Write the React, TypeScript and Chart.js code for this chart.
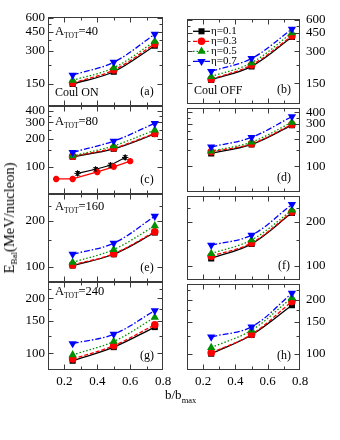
import React, { useEffect, useRef } from "react";
import { Chart, registerables } from "chart.js";
Chart.register(...registerables);

const FONT = "'Liberation Serif', 'Times New Roman', serif";

// impact parameter b/b_max
const bRatio = [0.25, 0.5, 0.75];
const etaNames = ["η=0.1", "η=0.3", "η=0.5", "η=0.7"];

// E_Bal (MeV/nucleon); rows: η=0.1, 0.3, 0.5, 0.7
const ebalA40On = [[150, 194, 335], [153, 201, 348], [162, 211, 367], [181, 237, 426]];
const ebalA40Off = [[161, 216, 411], [163, 223, 420], [173, 234, 450], [194, 257, 489]];
const ebalA80On = [[128, 156, 225], [130, 159, 228], [131, 168, 248], [143, 189, 293]];
const ebalA80Off = [[139, 175, 288], [145, 178, 293], [147, 186, 310], [164, 210, 359]];
const ebalA160On = [[102, 121, 168], [103, 122, 170], [107, 130, 186], [121, 143, 215]];
const ebalA160Off = [[112, 141, 230], [116, 143, 233], [121, 150, 240], [138, 162, 263]];
const ebalA240On = [[91, 108, 139], [93, 110, 143], [98, 116, 157], [113, 127, 171]];
const ebalA240Off = [[100, 127, 186], [101, 128, 195], [108, 135, 205], [124, 141, 217]];

// additional data shown in panel (c)
const redStarX = [0.15, 0.25, 0.4, 0.5, 0.6];
const redStarY = [74, 74, 88, 100, 115];
const blackStarX = [0.28, 0.39, 0.48, 0.57];
const blackStarY = [85, 94, 104, 126];
const blackStarErr = [4, 4, 5, 6];

// tick values
const xLabelTicks = [0.2, 0.4, 0.6, 0.8];
const xMinorTicks = [0.3, 0.5, 0.7];
const yTicks40 = [150, 300, 450, 600];
const yMinor40 = [225, 375, 525];
const yTicks80 = [100, 200, 300, 400];
const yMinor80 = [150, 250, 350];
const yTicks160 = [100, 200];
const yMinor160 = [150, 250];
const yTicks240 = [100, 150, 200];
const yMinor240 = [125, 175, 225];

const seriesStyle = [
  { color: "#000000", dash: [] as number[], point: "rect", rot: 0, r: 4.3 },
  { color: "#ff0000", dash: [4, 2], point: "circle", rot: 0, r: 3.8 },
  { color: "#009000", dash: [1.5, 2], point: "triangle", rot: 0, r: 4.8 },
  { color: "#0000ff", dash: [6, 2, 1.5, 2], point: "triangle", rot: 180, r: 4.8 },
];

const rowTops = [17, 106, 194, 282];
const rowBottoms = [106, 194, 282, 370];
const colLefts = [48, 187];
const colRights = [163, 300];

type Spec = {
  key: string;
  col: number;
  row: number;
  series: number[][];
  yMin: number;
  yMax: number;
  yTicks: number[];
  yMinor: number[];
  letter: string;
  atot?: string;
  atotDy?: number;
  coul?: string;
  legend?: boolean;
  extra?: boolean;
};

const panels: Spec[] = [
  { key: "a", col: 0, row: 0, series: ebalA40On, yMin: 94.5, yMax: 612, yTicks: yTicks40, yMinor: yMinor40, letter: "(a)", atot: "40", atotDy: 15, coul: "Coul ON" },
  { key: "b", col: 1, row: 0, series: ebalA40Off, yMin: 94.5, yMax: 612, yTicks: yTicks40, yMinor: yMinor40, letter: "(b)", coul: "Coul OFF", legend: true },
  { key: "c", col: 0, row: 1, series: ebalA80On, yMin: 51, yMax: 450, yTicks: yTicks80, yMinor: yMinor80, letter: "(c)", atot: "80", atotDy: 15.5, extra: true },
  { key: "d", col: 1, row: 1, series: ebalA80Off, yMin: 51, yMax: 450, yTicks: yTicks80, yMinor: yMinor80, letter: "(d)" },
  { key: "e", col: 0, row: 2, series: ebalA160On, yMin: 79.5, yMax: 301, yTicks: yTicks160, yMinor: yMinor160, letter: "(e)", atot: "160", atotDy: 12.7 },
  { key: "f", col: 1, row: 2, series: ebalA160Off, yMin: 79.5, yMax: 301, yTicks: yTicks160, yMinor: yMinor160, letter: "(f)" },
  { key: "g", col: 0, row: 3, series: ebalA240On, yMin: 81, yMax: 245, yTicks: yTicks240, yMinor: yMinor240, letter: "(g)", atot: "240", atotDy: 9.7 },
  { key: "h", col: 1, row: 3, series: ebalA240Off, yMin: 81, yMax: 245, yTicks: yTicks240, yMinor: yMinor240, letter: "(h)" },
];

type Seg = { t: string; sub?: boolean };

function drawRich(ctx: CanvasRenderingContext2D, x: number, y: number, segs: Seg[], size: number, subSize: number, align: "left" | "center") {
  let total = 0;
  const widths: number[] = [];
  segs.forEach((s) => {
    ctx.font = `${s.sub ? subSize : size}px ${FONT}`;
    const w = ctx.measureText(s.t).width;
    widths.push(w);
    total += w;
  });
  let cx = align === "center" ? x - total / 2 : x;
  ctx.textAlign = "left";
  ctx.textBaseline = "middle";
  ctx.fillStyle = "#000";
  segs.forEach((s, i) => {
    ctx.font = `${s.sub ? subSize : size}px ${FONT}`;
    ctx.fillText(s.t, cx, s.sub ? y + size * 0.33 : y);
    cx += widths[i];
  });
}

function drawMarker(ctx: CanvasRenderingContext2D, style: string, rot: number, x: number, y: number, r: number, color: string) {
  ctx.save();
  ctx.fillStyle = color;
  ctx.beginPath();
  if (style === "rect") {
    const s = r * Math.SQRT1_2;
    ctx.rect(x - s, y - s, 2 * s, 2 * s);
  } else if (style === "circle") {
    ctx.arc(x, y, r, 0, Math.PI * 2);
  } else {
    let a = (rot * Math.PI) / 180;
    for (let k = 0; k < 3; k++) {
      const px = x + Math.sin(a) * r;
      const py = y - Math.cos(a) * r;
      if (k === 0) ctx.moveTo(px, py);
      else ctx.lineTo(px, py);
      a += (2 * Math.PI) / 3;
    }
    ctx.closePath();
  }
  ctx.fill();
  ctx.restore();
}

function makeConfig(spec: Spec, canvasLeft: number, canvasTop: number, canvasW: number, canvasH: number): any {
  const isBottom = spec.row === 3;
  const chartLeft = colLefts[spec.col];
  const chartRight = colRights[spec.col];
  const top = rowTops[spec.row];
  const bottom = rowBottoms[spec.row];
  const axisW = spec.col === 0 ? 48 : 40;
  const xAxisH = isBottom ? 30 : 0;
  const padding =
    spec.col === 0
      ? { left: chartLeft - canvasLeft - axisW, right: canvasLeft + canvasW - chartRight, top: top - canvasTop, bottom: canvasTop + canvasH - bottom - xAxisH }
      : { left: chartLeft - canvasLeft, right: canvasLeft + canvasW - chartRight - axisW, top: top - canvasTop, bottom: canvasTop + canvasH - bottom - xAxisH };

  const datasets: any[] = spec.series.map((vals, i) => {
    const st = seriesStyle[i];
    return {
      label: etaNames[i],
      data: bRatio.map((x, k) => ({ x, y: vals[k] })),
      borderColor: st.color,
      backgroundColor: st.color,
      borderWidth: 1.3,
      borderDash: st.dash,
      pointStyle: st.point,
      pointRotation: st.rot,
      pointRadius: st.r,
      pointBorderWidth: 0,
      tension: 0.35,
      order: 10 - i,
    };
  });
  if (spec.extra) {
    datasets.push({
      label: "red stars",
      data: redStarX.map((x, k) => ({ x, y: redStarY[k] })),
      borderColor: "#ff0000",
      backgroundColor: "#ff0000",
      borderWidth: 1.3,
      pointStyle: "star",
      pointRadius: 3.2,
      pointBorderWidth: 2,
      tension: 0,
      order: 20,
    });
    datasets.push({
      label: "black stars",
      data: blackStarX.map((x, k) => ({ x, y: blackStarY[k] })),
      borderColor: "#000000",
      backgroundColor: "#000000",
      borderWidth: 1.1,
      pointStyle: "star",
      pointRadius: 3.2,
      pointBorderWidth: 1,
      tension: 0,
      order: 21,
    });
  }

  const decor = {
    id: "decor",
    afterDatasetsDraw(chart: any) {
      const ctx: CanvasRenderingContext2D = chart.ctx;
      const ca = chart.chartArea;
      const xs = chart.scales.x;
      const ys = chart.scales.y;
      const L = Math.round(ca.left) + 0.5;
      const R = Math.round(ca.right) - 0.5;
      const T = Math.round(ca.top) + 0.5;
      const B = Math.round(ca.bottom) - 0.5;
      ctx.save();
      // error bars for black stars
      if (spec.extra) {
        ctx.strokeStyle = "#000";
        ctx.lineWidth = 1;
        blackStarX.forEach((x, k) => {
          const px = xs.getPixelForValue(x);
          const y1 = ys.getPixelForValue(blackStarY[k] - blackStarErr[k]);
          const y2 = ys.getPixelForValue(blackStarY[k] + blackStarErr[k]);
          ctx.beginPath();
          ctx.moveTo(px, y1);
          ctx.lineTo(px, y2);
          ctx.moveTo(px - 1.5, y1);
          ctx.lineTo(px + 1.5, y1);
          ctx.moveTo(px - 1.5, y2);
          ctx.lineTo(px + 1.5, y2);
          ctx.stroke();
        });
      }
      // frame
      ctx.strokeStyle = "#3a3a3a";
      ctx.lineWidth = 1;
      ctx.strokeRect(L, T, R - L, B - T);
      ctx.beginPath();
      const xAll = [...xLabelTicks, ...xMinorTicks];
      xAll.forEach((v) => {
        if (v <= 0.1 || v >= 0.8) return;
        const px = Math.round(xs.getPixelForValue(v)) + 0.5;
        const len = xLabelTicks.includes(v) ? 5 : 3;
        ctx.moveTo(px, B);
        ctx.lineTo(px, B - len);
        ctx.moveTo(px, T);
        ctx.lineTo(px, T + len);
      });
      const yAll = [...spec.yTicks.map((v) => [v, 5]), ...spec.yMinor.map((v) => [v, 3])];
      yAll.forEach(([v, len]) => {
        if (v <= spec.yMin || v >= spec.yMax) return;
        const py = Math.round(ys.getPixelForValue(v)) + 0.5;
        ctx.moveTo(L, py);
        ctx.lineTo(L + len, py);
        ctx.moveTo(R, py);
        ctx.lineTo(R - len, py);
      });
      ctx.stroke();

      // annotations
      if (spec.atot) {
        drawRich(ctx, ca.left + 7, ca.top + (spec.atotDy || 15), [{ t: "A" }, { t: "TOT", sub: true }, { t: "=" + spec.atot }], 12.5, 7.5, "left");
      }
      if (spec.coul) {
        drawRich(ctx, ca.left + 7, ca.bottom - 13.3, [{ t: spec.coul }], 12, 8, "left");
      }
      drawRich(ctx, ca.right - 16, ca.bottom - 14, [{ t: spec.letter }], 12, 8, "center");

      // legend
      if (spec.legend) {
        seriesStyle.forEach((st, i) => {
          const y = ca.top + 12.5 + i * 10;
          const x0 = ca.left + 6;
          const x1 = ca.left + 23;
          ctx.save();
          ctx.strokeStyle = st.color;
          ctx.lineWidth = 1.3;
          ctx.setLineDash(st.dash);
          ctx.beginPath();
          ctx.moveTo(x0, y);
          ctx.lineTo(x1, y);
          ctx.stroke();
          ctx.restore();
          drawMarker(ctx, st.point, st.rot, (x0 + x1) / 2, y, st.r, st.color);
          drawRich(ctx, x1 + 1, y, [{ t: etaNames[i] }], 11, 7, "left");
        });
      }
      ctx.restore();
    },
  };

  return {
    type: "line",
    data: { datasets },
    options: {
      responsive: false,
      animation: false,
      events: [],
      layout: { padding },
      plugins: { legend: { display: false }, tooltip: { enabled: false } },
      scales: {
        x: {
          type: "linear",
          min: 0.1,
          max: 0.8,
          display: isBottom,
          grid: { display: false, drawTicks: false },
          border: { display: false },
          ticks: {
            font: { family: FONT, size: 13 },
            color: "#000",
            padding: 4,
            maxRotation: 0,
            autoSkip: false,
            callback: (v: any) => Number(v).toFixed(1),
          },
          afterBuildTicks: (s: any) => {
            s.ticks = xLabelTicks.map((v) => ({ value: v }));
          },
          afterFit: (s: any) => {
            s.height = xAxisH;
          },
        },
        y: {
          type: "logarithmic",
          position: spec.col === 0 ? "left" : "right",
          min: spec.yMin,
          max: spec.yMax,
          grid: { display: false, drawTicks: false },
          border: { display: false },
          ticks: {
            font: { family: FONT, size: 13 },
            color: "#000",
            padding: spec.col === 0 ? 3 : 6,
            autoSkip: false,
            callback: (v: any) => String(v),
          },
          afterBuildTicks: (s: any) => {
            s.ticks = spec.yTicks.map((v) => ({ value: v }));
          },
          afterFit: (s: any) => {
            s.width = axisW;
          },
        },
      },
    },
    plugins: [decor],
  };
}

function Panel({ spec }: { spec: Spec }) {
  const ref = useRef<HTMLCanvasElement | null>(null);
  const isBottom = spec.row === 3;
  const canvasLeft = spec.col === 0 ? 0 : 170;
  const canvasW = spec.col === 0 ? 180 : 170;
  const canvasTop = rowTops[spec.row] - 12;
  const canvasH = rowBottoms[spec.row] - rowTops[spec.row] + 12 + (isBottom ? 50 : 12);
  useEffect(() => {
    const chart = new Chart(ref.current as HTMLCanvasElement, makeConfig(spec, canvasLeft, canvasTop, canvasW, canvasH));
    return () => chart.destroy();
  }, []);
  return (
    <canvas
      ref={ref}
      width={canvasW}
      height={canvasH}
      style={{ position: "absolute", left: canvasLeft, top: canvasTop, width: canvasW, height: canvasH }}
    />
  );
}

export default function App() {
  return (
    <div style={{ position: "absolute", left: 0, top: 0, width: 340, height: 440, background: "#fff", overflow: "hidden", fontFamily: FONT }}>
      {panels.map((p) => (
        <Panel key={p.key} spec={p} />
      ))}
      <div
        style={{
          position: "absolute",
          left: 10,
          top: 218,
          transform: "translate(-50%, -50%) rotate(-90deg)",
          whiteSpace: "nowrap",
          fontSize: 14.5,
          lineHeight: "16px",
          color: "#000",
        }}
      >
        E<span style={{ fontSize: 9, position: "relative", top: 3 }}>Bal</span>(MeV/nucleon)
      </div>
      <div
        style={{
          position: "absolute",
          left: 165,
          top: 387,
          whiteSpace: "nowrap",
          fontSize: 13,
          lineHeight: "15px",
          color: "#000",
        }}
      >
        b/b<span style={{ fontSize: 8.5, position: "relative", top: 4 }}>max</span>
      </div>
    </div>
  );
}
